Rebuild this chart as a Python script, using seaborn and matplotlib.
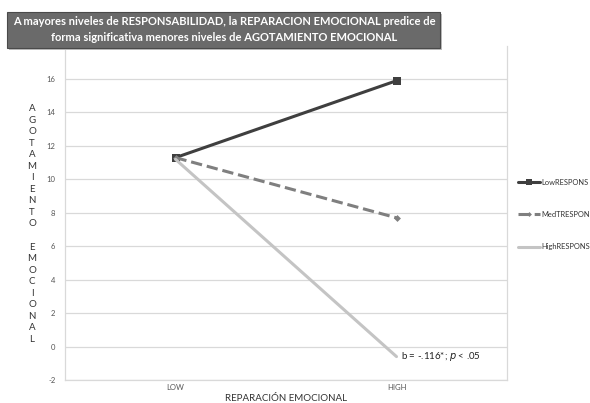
import matplotlib
matplotlib.use("Agg")
import matplotlib.pyplot as plt
import seaborn as sns
import pandas as pd
from matplotlib.patches import Rectangle

categories = ["LOW", "HIGH"]
series_names = ["LowRESPONS", "MedTRESPON", "HighRESPONS"]
low_values = [11.3, 15.9]
med_values = [11.3, 7.7]
high_values = [11.2, -0.6]
y_ticks = [-2, 0, 2, 4, 6, 8, 10, 12, 14, 16]

rows = []
for name, vals in zip(series_names, [low_values, med_values, high_values]):
    for c, v in zip(categories, vals):
        rows.append({"x": c, "y": v, "serie": name})
df = pd.DataFrame(rows)

sns.set_theme(style="white")
plt.rcParams['font.family'] = ['Lato', 'DejaVu Sans']

fig = plt.figure(figsize=(5.9, 4.03), dpi=100)
W, H = 590, 403
ax = fig.add_axes([65 / W, (403 - 380) / H, (507 - 65) / W, (380 - 45.6) / H])

palette = {"LowRESPONS": "#3f3f3f", "MedTRESPON": "#7f7f7f", "HighRESPONS": "#c4c4c4"}
markers = {"LowRESPONS": "s", "MedTRESPON": "D", "HighRESPONS": None}

for name in series_names:
    sub = df[df["serie"] == name]
    sns.lineplot(data=sub, x="x", y="y", ax=ax, color=palette[name], lw=2.2,
                 marker=markers[name],
                 markersize=6 if name == "LowRESPONS" else 3.5,
                 markeredgewidth=0, label=name, sort=False,
                 linestyle="--" if name == "MedTRESPON" else "-")

ax.set_xlim(-0.5, 1.5)
ax.set_ylim(-2, 18)
ax.set_yticks(y_ticks)
ax.set_yticklabels([str(t) for t in y_ticks])
ax.yaxis.grid(True, color="#d9d9d9", lw=0.9)
ax.set_axisbelow(True)
ax.spines["top"].set_visible(False)
for s in ["left", "right", "bottom"]:
    ax.spines[s].set_color("#d9d9d9")
    ax.spines[s].set_linewidth(0.9)
ax.tick_params(axis="y", labelsize=5.5, colors="#555555", length=0, pad=7)
ax.tick_params(axis="x", labelsize=5.5, colors="#555555", length=0, pad=3)
ax.set_xlabel("REPARACIÓN EMOCIONAL", fontsize=7, color="#333333", labelpad=2)
ax.set_ylabel("")

letters = "\n".join(list("AGOTAMIENTO") + [""] + list("EMOCIONAL"))
fig.text(32 / W, 1 - 224 / H, letters, ha="center", va="center", fontsize=7,
         color="#333333", linespacing=1.36)

ax.annotate("b = -.116*; $\\it{p}$ < .05", xy=(1.02, -0.6), fontsize=7, color="#222222",
            ha="left", va="center")

leg = ax.legend(loc="center left", bbox_to_anchor=(518 / W, 1 - 214.5 / H),
                bbox_transform=fig.transFigure, frameon=False, fontsize=5.4,
                labelspacing=3.35, handlelength=2.9, handletextpad=0.25,
                labelcolor="#333333", borderpad=0, borderaxespad=0, markerscale=0.7)

# shadow + title box
fig.patches.append(Rectangle((9 / W, 1 - 50 / H), 433 / W, 36 / H, transform=fig.transFigure,
                             facecolor="#bdbdbd", edgecolor="none", zorder=4))
fig.patches.append(Rectangle((7 / W, 1 - 48 / H), 433 / W, 36 / H, transform=fig.transFigure,
                             facecolor="#6a6a6a", edgecolor="#4a4a4a", lw=0.8, zorder=5))
fig.text(224 / W, 1 - 21.5 / H,
         "A mayores niveles de RESPONSABILIDAD, la REPARACION EMOCIONAL predice de",
         ha="center", va="center", fontsize=8.0, color="white", fontweight="bold", zorder=6)
fig.text(224 / W, 1 - 37.5 / H,
         "forma significativa menores niveles de AGOTAMIENTO EMOCIONAL",
         ha="center", va="center", fontsize=8.0, color="white", fontweight="bold", zorder=6)

fig.savefig("out.png", dpi=100, facecolor="white")
